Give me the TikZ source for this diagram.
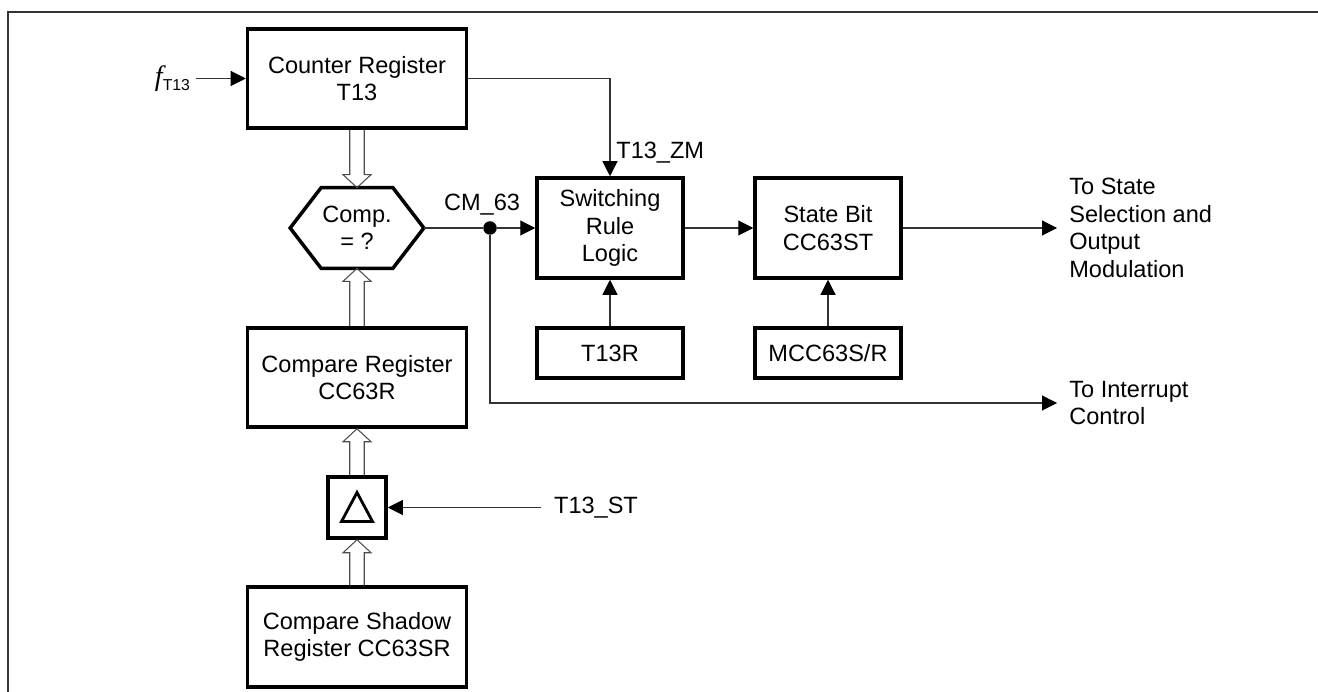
\documentclass[tikz,border=0pt]{standalone}
\usepackage{fontspec}
\setmainfont{Liberation Sans}
\newfontfamily\serif{Liberation Serif}
\usepackage{tikz}
\usetikzlibrary{arrows.meta}

\begin{document}
\begin{tikzpicture}[font=\fontsize{13.4}{15.6}\selectfont, >={Triangle[length=0.3cm,width=0.3cm,color=black]},
	reg/.style={draw, line width=2pt, align=center, minimum width=4.38cm, minimum height=1.98cm},
	blk/.style={draw, line width=2pt, align=center, minimum width=2.92cm, minimum height=2cm},
	wire/.style={line width=0.6pt, draw=black!80},
	bus/.style={line width=0.6pt, draw=black!70},
	txt/.style={align=left, anchor=west, inner xsep=0.24cm, inner ysep=0pt}]
	\useasboundingbox (0,0) rectangle (26.36,-13.84);
	\draw[wire] (0.16,-13.84) -- (0.16,-0.24) -- (26.36,-0.24);
	% registers on the left
	\node[reg] (Counter) at (7.14,-1.57) {Counter Register\\T13};
	\node[minimum width=2.66cm, minimum height=1.6cm, align=center] (Comp) at (7.14,-4.56) {Comp.\\= ?};
	\draw[line width=2pt] (Comp.west) -- ([xshift=0.62cm]Comp.north west) -- ([xshift=-0.62cm]Comp.north east) -- (Comp.east) -- ([xshift=-0.62cm]Comp.south east) -- ([xshift=0.62cm]Comp.south west) -- cycle;
	\node[reg] (Compare) at (7.14,-7.55) {Compare Register\\CC63R};
	\node[draw, line width=2pt, minimum width=1.16cm, minimum height=1.22cm] (Delta) at (7.14,-10.15) {};
	\draw[line width=1.6pt] ([yshift=0.3cm]Delta.center) -- ([xshift=0.31cm,yshift=-0.28cm]Delta.center) -- ([xshift=-0.31cm,yshift=-0.28cm]Delta.center) -- cycle;
	\node[reg, minimum height=2cm] (Shadow) at (7.14,-12.74) {Compare Shadow\\Register CC63SR};
	% logic blocks
	\node[blk] (Switch) at (12.2,-4.56) {Switching\\Rule\\Logic};
	\node[blk] (State) at (16.56,-4.56) {State Bit\\CC63ST};
	\node[blk, minimum height=1cm] (T13R) at (12.2,-7.06) {T13R};
	\node[blk, minimum height=1cm] (MCC) at (16.56,-7.06) {MCC63S/R};
	\node[circle, fill, inner sep=0pt, minimum size=0.27cm] (Dot) at (9.8,-4.56) {};
	% inputs and outputs
	\node (Fin) at (3.45,-1.57) {{\serif\itshape\fontsize{16}{18}\selectfont f}\raisebox{-0.4ex}{\fontsize{9}{10}\selectfont T13}};
	\node[txt] (Out) at (21.14,-4.56) {To State\\Selection and\\Output\\Modulation};
	\node[txt] (Intr) at (21.14,-8.06) {To Interrupt\\Control};
	\node[inner xsep=0.25cm] (ST) at (11.92,-10.15) {T13\_ST};
	\node[above, xshift=-0.16cm] at (Dot.north) {CM\_63};
	% bus arrows
	\foreach \a/\b/\s in {Counter.south/Comp.north/1, Compare.north/Comp.south/-1, Delta.north/Compare.south/-1, Shadow.north/Delta.south/-1}
		\draw[bus] ([xshift=-0.145cm]\a) -- ([xshift=-0.145cm,yshift=\s*0.26cm]\b) -- ([xshift=-0.28cm,yshift=\s*0.26cm]\b) -- (\b) -- ([xshift=0.28cm,yshift=\s*0.26cm]\b) -- ([xshift=0.145cm,yshift=\s*0.26cm]\b) -- ([xshift=0.145cm]\a);
	% signals
	\draw[wire, ->] (Fin) -- (Counter);
	\draw[wire, ->] (Counter.east) -| (Switch.north) node[pos=0.88, right, black] {T13\_ZM};
	\draw[wire] (Comp.east) -- (Dot);
	\draw[wire, ->] (Dot) -- (Switch);
	\draw[wire, ->] (Switch) -- (State);
	\draw[wire, ->] (State) -- (Out);
	\draw[wire, ->] (T13R) -- (Switch);
	\draw[wire, ->] (MCC) -- (State);
	\draw[wire, ->] (Dot) |- (Intr);
	\draw[wire, ->] (ST) -- (Delta);
\end{tikzpicture}
\end{document}
